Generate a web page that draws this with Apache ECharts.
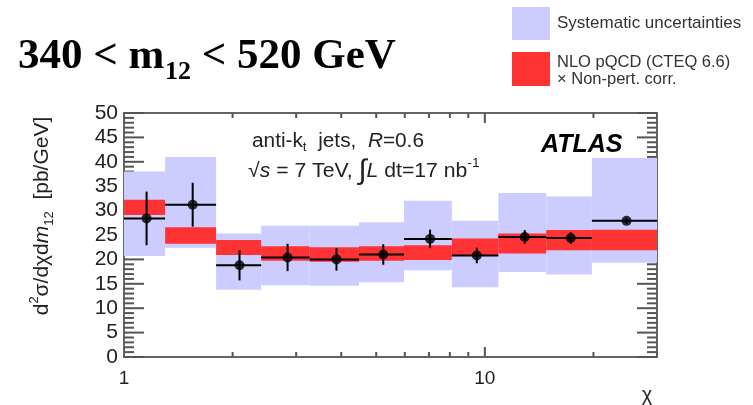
<!DOCTYPE html>
<html><head><meta charset="utf-8">
<script src="https://cdn.jsdelivr.net/npm/echarts@6/dist/echarts.min.js"></script>
<style>html,body{margin:0;padding:0;background:#fff}#c{width:753px;height:405px}</style>
</head><body><div id="c"></div>
<script>
// ---- data ----
const binEdges   = [1, 1.30, 1.80, 2.40, 3.27, 4.48, 5.97, 8.1, 10.9, 14.8, 19.8, 30];
const chiCentres = [1.155, 1.55, 2.09, 2.84, 3.88, 5.23, 7.05, 9.5, 12.9, 17.3, 24.7];
const dataValues = [28.4, 31.2, 18.8, 20.4, 20.0, 21.0, 24.2, 20.8, 24.6, 24.4, 27.9];
const statErrors = [5.5, 4.5, 3.1, 2.8, 2.3, 2.1, 1.9, 1.6, 1.4, 1.2, 0.6];
const systLow    = [20.7, 22.4, 13.8, 14.7, 14.6, 15.3, 17.8, 14.3, 17.4, 16.9, 19.3];
const systHigh   = [38.0, 41.0, 25.3, 26.9, 26.9, 27.6, 32.0, 27.9, 33.6, 32.9, 40.8];
const nloLow     = [29.1, 23.2, 20.9, 19.7, 19.5, 19.7, 19.9, 20.8, 21.2, 21.9, 21.9];
const nloHigh    = [32.2, 26.6, 24.0, 22.7, 22.5, 22.7, 22.9, 24.3, 25.3, 26.0, 26.1];
const xMajorTicks = [1, 10];
const xMinorTicks = [2, 3, 4, 5, 6, 7, 8, 9, 20, 30];
const yMajorTicks = [0, 5, 10, 15, 20, 25, 30, 35, 40, 45, 50];
const yMinorTicks = [1, 2, 3, 4, 6, 7, 8, 9, 11, 12, 13, 14, 16, 17, 18, 19, 21, 22, 23, 24, 26, 27, 28, 29,
                     31, 32, 33, 34, 36, 37, 38, 39, 41, 42, 43, 44, 46, 47, 48, 49];
const xMin = 1, xMax = 30, yMin = 0, yMax = 50, yInterval = 5;

const SANS = '"Liberation Sans", Arial, Helvetica, sans-serif';
const SERIF = '"Liberation Serif", "Times New Roman", serif';
const AX = '#333';
const TICK = '#555';
const TICK_W = 2;

function bandData(lo, hi) {
  return binEdges.slice(0, -1).map((e, i) => [e, binEdges[i + 1], lo[i], hi[i]]);
}
function bandRender(color) {
  return function (params, api) {
    const p0 = api.coord([api.value(0), api.value(3)]);
    const p1 = api.coord([api.value(1), api.value(2)]);
    return { type: 'rect', shape: { x: p0[0], y: p0[1], width: p1[0] - p0[0], height: p1[1] - p0[1] },
             style: { fill: color } };
  };
}
const errData = binEdges.slice(0, -1).map((e, i) => [e, binEdges[i + 1], chiCentres[i], dataValues[i], statErrors[i]]);
function errRender(params, api) {
  const x0 = api.value(0), x1 = api.value(1), xc = api.value(2), v = api.value(3), er = api.value(4);
  const a = api.coord([x0, v]), b = api.coord([x1, v]);
  const t = api.coord([xc, v + er]), d = api.coord([xc, v - er]);
  const st = { stroke: '#000', lineWidth: 2 };
  return { type: 'group', children: [
    { type: 'line', shape: { x1: a[0], y1: a[1], x2: b[0], y2: b[1] }, style: st },
    { type: 'line', shape: { x1: t[0], y1: t[1], x2: d[0], y2: d[1] }, style: st }
  ] };
}
// x-axis tick marks (bottom and top frame), placed through the log axis scale
const xTickData = xMajorTicks.map(v => [v, v, yMin, yMax, 10]).concat(xMinorTicks.map(v => [v, v, yMin, yMax, 5]));
function xTickRender(params, api) {
  const b = api.coord([api.value(0), api.value(2)]), t = api.coord([api.value(1), api.value(3)]);
  const len = api.value(4);
  const st = { stroke: TICK, lineWidth: TICK_W };
  return { type: 'group', children: [
    { type: 'line', shape: { x1: b[0], y1: b[1], x2: b[0], y2: b[1] - len }, style: st },
    { type: 'line', shape: { x1: t[0], y1: t[1], x2: t[0], y2: t[1] + len }, style: st }
  ] };
}

function xAxisDef(pos, showLabel) {
  return {
    type: 'log', logBase: 10, min: xMin, max: xMax, position: pos,
    axisLine: { show: true, onZero: false, lineStyle: { color: AX, width: 1.5 } },
    axisTick: { show: false },
    axisLabel: { show: showLabel, customValues: xMajorTicks, fontSize: 19, fontFamily: SANS, color: '#222', margin: 12 },
    splitLine: { show: false }, minorTick: { show: false }, minorSplitLine: { show: false }
  };
}
function yAxisDef(pos, showLabel) {
  return {
    type: 'value', min: yMin, max: yMax, interval: yInterval, position: pos,
    axisLine: { show: true, onZero: false, lineStyle: { color: AX, width: 1.5 } },
    axisTick: { show: false }, minorTick: { show: false },
    axisLabel: { show: showLabel, fontSize: 21, fontFamily: SANS, color: '#222', margin: 6 },
    splitLine: { show: false }, minorSplitLine: { show: false }
  };
}

const rs = (size, extra) => Object.assign({ fontSize: size, fontFamily: SANS, fill: '#222' }, extra || {});
const T1 = 'bold 43px ' + SERIF, T2 = 'bold 26px ' + SERIF;

const texts = [
    { type: 'text', x: 18, y: 57, style: { text: '340 < m', font: T1, fill: '#000', align: 'left', verticalAlign: 'middle' } },
    { type: 'text', x: 165, y: 72, style: { text: '12', font: T2, fill: '#000', align: 'left', verticalAlign: 'middle' } },
    { type: 'text', x: 191, y: 57, style: { text: ' < 520 GeV', font: T1, fill: '#000', align: 'left', verticalAlign: 'middle' } },
    { type: 'rect', shape: { x: 512, y: 7, width: 38, height: 33 }, style: { fill: '#ccccff' } },
    { type: 'rect', shape: { x: 512, y: 52, width: 38, height: 34 }, style: { fill: '#ff3333' } },
    { type: 'text', x: 557, y: 23, style: { text: 'Systematic uncertainties', font: '17px ' + SANS, fill: '#333', align: 'left', verticalAlign: 'middle' } },
    { type: 'text', x: 557, y: 62, style: { text: 'NLO pQCD (CTEQ 6.6)', font: '16.5px ' + SANS, fill: '#333', align: 'left', verticalAlign: 'middle' } },
    { type: 'text', x: 557, y: 79, style: { text: '× Non-pert. corr.', font: '16.5px ' + SANS, fill: '#333', align: 'left', verticalAlign: 'middle' } },
    { type: 'text', x: 252, y: 141, scaleX: 1.04, style: {
        text: '{n|anti-k}{sub|t}{n|  jets,  }{i|R}{n|=0.6}', align: 'left', verticalAlign: 'middle',
        rich: { n: rs(20, { lineHeight: 26 }), i: rs(20, { fontStyle: 'italic', lineHeight: 26 }),
                sub: rs(13, { lineHeight: 13, verticalAlign: 'bottom' }) } } },
    { type: 'text', x: 248, y: 171, scaleX: 1.06, style: {
        text: '{n|√}{i|s}{n| = 7 TeV, }{int|∫}{i|L}{n| dt=17 nb}{sup|-1}', align: 'left', verticalAlign: 'middle',
        rich: { n: rs(20, { lineHeight: 28 }), i: rs(20, { fontStyle: 'italic', lineHeight: 28 }),
                int: rs(28, { lineHeight: 28 }), sup: rs(13, { lineHeight: 13, verticalAlign: 'top' }) } } },
    { type: 'text', x: 541, y: 145, style: { text: 'ATLAS', font: 'italic bold 25px ' + SANS, fill: '#000', align: 'left', verticalAlign: 'middle' } },
    { type: 'text', x: 42, y: 216, rotation: Math.PI / 2, style: {
        text: '{n|d}{sup|2}{n|σ/dχd}{i|m}{sub|12}{n|  [pb/GeV]}', align: 'center', verticalAlign: 'middle',
        rich: { n: rs(21, { lineHeight: 28 }), i: rs(21, { fontStyle: 'italic', lineHeight: 28 }),
                sup: rs(13, { lineHeight: 13, verticalAlign: 'top' }), sub: rs(13, { lineHeight: 13, verticalAlign: 'bottom' }) } } },
    { type: 'text', x: 647, y: 395, style: { text: 'χ', font: '20px ' + SANS, fill: '#222', align: 'center', verticalAlign: 'middle' } }
];

const option = {
  animation: false,
  backgroundColor: '#fff',
  grid: { left: 124, top: 113, right: 96, bottom: 48, containLabel: false },
  xAxis: [ xAxisDef('bottom', true), xAxisDef('top', false) ],
  yAxis: [ yAxisDef('left', true), yAxisDef('right', false) ],
  series: [
    { name: 'x ticks', type: 'custom', clip: true, renderItem: xTickRender, encode: { x: [0, 1], y: [2, 3] }, data: xTickData, z: 2 },
    { name: 'Systematic uncertainties', type: 'custom', clip: true, renderItem: bandRender('#ccccff'),
      encode: { x: [0, 1], y: [2, 3] }, data: bandData(systLow, systHigh), z: 2 },
    { name: 'NLO pQCD (CTEQ 6.6) × Non-pert. corr.', type: 'custom', clip: true, renderItem: bandRender('#ff3333'),
      encode: { x: [0, 1], y: [2, 3] }, data: bandData(nloLow, nloHigh), z: 3 },
    { name: 'Data errors', type: 'custom', clip: true, renderItem: errRender,
      encode: { x: [0, 1, 2], y: [3] }, data: errData, z: 4 },
    { name: 'Data', type: 'scatter', symbol: 'circle', symbolSize: 10, itemStyle: { color: '#000' },
      data: chiCentres.map((c, i) => [c, dataValues[i]]), z: 5 }
  ],
  graphic: texts
};
const chart = echarts.init(document.getElementById('c'), null, { renderer: 'canvas' });
chart.setOption(option);
// y-axis tick marks (left and right frame), placed through the y axis scale
const yTicks = [];
function addY(v, len) {
  const l = chart.convertToPixel({ xAxisIndex: 0, yAxisIndex: 0 }, [xMin, v]);
  const r = chart.convertToPixel({ xAxisIndex: 0, yAxisIndex: 0 }, [xMax, v]);
  const st = { stroke: TICK, lineWidth: TICK_W };
  yTicks.push({ type: 'line', z: 1, shape: { x1: l[0], y1: l[1], x2: l[0] + len, y2: l[1] }, style: st });
  yTicks.push({ type: 'line', z: 1, shape: { x1: r[0], y1: r[1], x2: r[0] - len, y2: r[1] }, style: st });
}
yMajorTicks.forEach(v => addY(v, 20));
yMinorTicks.forEach(v => addY(v, 10));
chart.setOption({ graphic: texts.concat(yTicks) });
</script></body></html>
